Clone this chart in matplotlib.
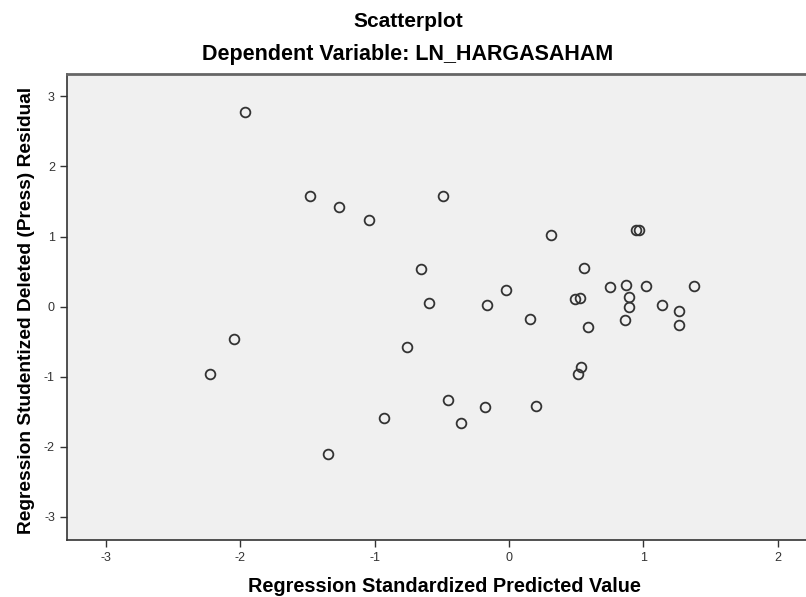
import matplotlib.pyplot as plt

# SPSS residual scatterplot
pred = [-1.961, -1.480, -1.266, -1.043, -0.491, 0.312, 0.944, 0.969, -0.652, 0.558,
        -0.593, -0.164, -0.020, 0.158, 0.493, 0.530, 0.749, 0.868, 0.890, 0.890,
        0.865, 0.590, 1.019, 1.135, 1.264, 1.264, 1.375, -2.045, -2.225, -0.758,
        0.535, 0.511, -0.456, -0.181, 0.199, -0.927, -0.359, -1.343]
resid = [2.781, 1.581, 1.420, 1.243, 1.574, 1.020, 1.091, 1.096, 0.534, 0.557,
         0.046, 0.029, 0.239, -0.176, 0.106, 0.120, 0.286, 0.310, 0.143, -0.009,
         -0.190, -0.290, 0.291, 0.024, -0.066, -0.261, 0.300, -0.466, -0.961, -0.580,
         -0.861, -0.957, -1.337, -1.437, -1.423, -1.594, -1.661, -2.109]
ticks = [-3, -2, -1, 0, 1, 2]
yticks = [-3, -2, -1, 0, 1, 2, 3]

plt.rcParams['font.family'] = ['Liberation Sans', 'DejaVu Sans']

fig = plt.figure(figsize=(8.06, 5.97), dpi=100)
ax = fig.add_axes([66.7 / 806, 57 / 597, 1 - 66.7 / 806, 466 / 597])
ax.set_facecolor('#f0f0f0')

ax.plot(pred, resid, 'o', markersize=7, markerfacecolor='none',
        markeredgecolor='#333333', markeredgewidth=1.3)

ax.set_xlim(-3.29, 2.21)
ax.set_ylim(-3.33, 3.32)
ax.set_xticks(ticks)
ax.set_yticks(yticks)
ax.set_xticklabels([str(t) for t in ticks])
ax.set_yticklabels([str(t) for t in yticks])
ax.tick_params(direction='out', length=5, width=1, colors='#333333', labelsize=9)

for side in ['left', 'bottom']:
    ax.spines[side].set_color('#333333')
    ax.spines[side].set_linewidth(1.2)
ax.spines['top'].set_color('#666666')
ax.spines['top'].set_linewidth(2)
ax.spines['right'].set_visible(False)

fig.text(408 / 806, 1 - 27 / 597, 'Scatterplot', ha='center', va='baseline',
         fontsize=15, fontweight='bold')
fig.text(408 / 806, 1 - 60 / 597, 'Dependent Variable: LN_HARGASAHAM', ha='center',
         va='baseline', fontsize=15.5, fontweight='bold')
fig.text(444 / 806, 1 - 592 / 597, 'Regression Standardized Predicted Value',
         ha='center', va='baseline', fontsize=14.3, fontweight='bold')
fig.text(31 / 806, 1 - 310 / 597, 'Regression Studentized Deleted (Press) Residual',
         ha='center', va='baseline', rotation=90, rotation_mode='anchor',
         fontsize=13.8, fontweight='bold')

fig.savefig('out.png', dpi=100)
